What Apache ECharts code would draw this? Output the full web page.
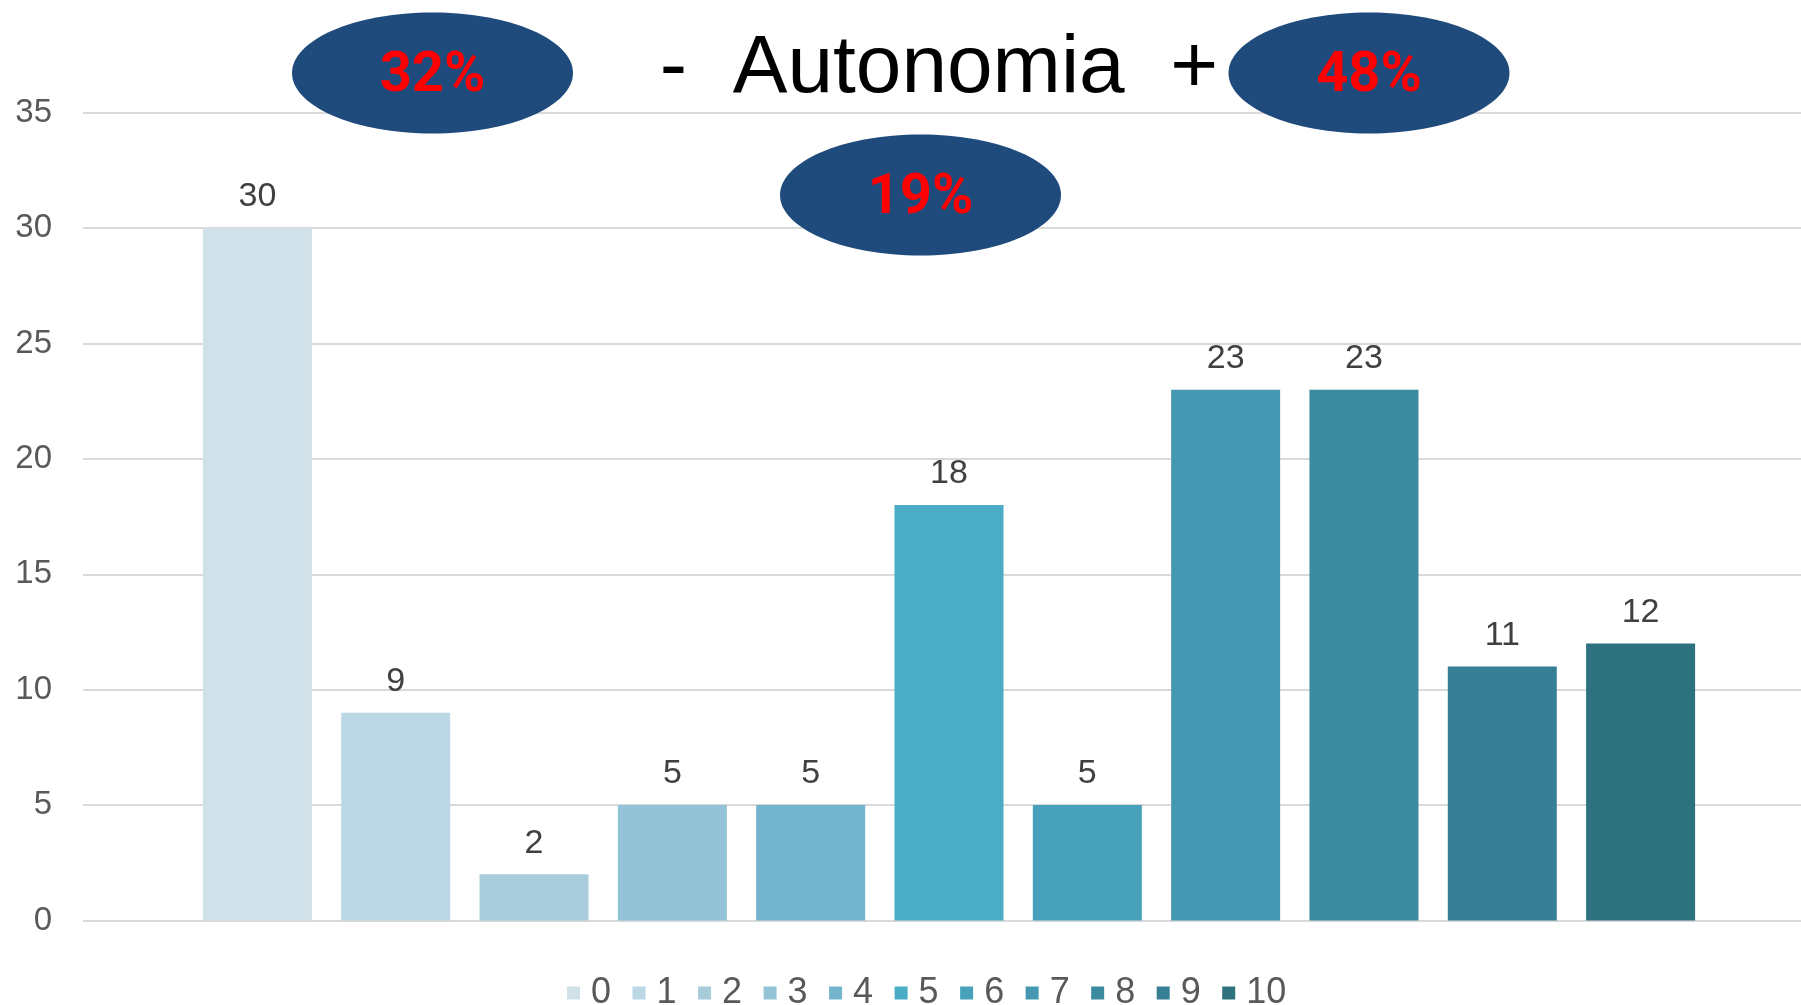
<!DOCTYPE html>
<html>
<head>
<meta charset="utf-8">
<title>Autonomia</title>
<script src="https://cdn.jsdelivr.net/npm/echarts@6/dist/echarts.min.js"></script>
<style>
  html, body { margin: 0; padding: 0; background: #ffffff; }
  #chart { width: 1801px; height: 1005px; }
</style>
</head>
<body>
<div id="chart"></div>
<script>
// Score scale 0..10 and how many answers each score received
const scoreLabels = ['0', '1', '2', '3', '4', '5', '6', '7', '8', '9', '10'];
const counts = [30, 9, 2, 5, 5, 18, 5, 23, 23, 11, 12];

// Share of answers in the low / middle / high score groups
const groupShares = ['32%', '19%', '48%'];

// Value axis range
const yMin = 0;
const yMax = 35;
const yStep = 5;

// Bar colours, light to dark teal
const palette = ['#D0E1E9', '#BCD8E4', '#A9CCDB', '#94C2D6', '#72B5CD', '#4BACC6',
                 '#47A1BB', '#4498B1', '#3B8AA0', '#377F94', '#2E7280'];

const FONT = "'Liberation Sans', Arial, sans-serif";
const chart = echarts.init(document.getElementById('chart'), null, { renderer: 'canvas' });

const series = scoreLabels.map((name, i) => ({
  type: 'bar',
  name: name,
  xAxisIndex: 1,
  yAxisIndex: 1,
  data: [counts[i]],
  barWidth: 109,
  barGap: '26.9%',
  itemStyle: { color: palette[i] },
  label: {
    show: true,
    position: 'top',
    distance: 14,
    fontFamily: FONT,
    fontSize: 34,
    color: '#404040'
  },
  emphasis: { disabled: true },
  animation: false
}));

// Oval badges with the group shares
const bubbles = [
  { cx: 432.5, cy: 73, text: groupShares[0] },
  { cx: 920.5, cy: 195, text: groupShares[1] },
  { cx: 1369, cy: 73, text: groupShares[2] }
];
const graphics = [];
bubbles.forEach(b => {
  graphics.push({
    type: 'ellipse',
    z: 100,
    shape: { cx: b.cx, cy: b.cy, rx: 140.5, ry: 60.5 },
    style: { fill: '#1F4A7C' }
  });
  graphics.push({
    type: 'text',
    z: 101,
    x: b.cx,
    y: b.cy + 4,
    style: {
      text: b.text,
      fill: '#FF0000',
      font: "bold 56px Roboto, 'Liberation Sans', sans-serif",
      align: 'center',
      verticalAlign: 'middle'
    }
  });
});
graphics.push({
  type: 'text',
  z: 100,
  x: 939,
  y: 69,
  style: {
    text: '-  Autonomia  +',
    fill: '#000000',
    font: '82px ' + FONT,
    align: 'center',
    verticalAlign: 'middle'
  }
});

chart.setOption({
  backgroundColor: '#ffffff',
  animation: false,
  grid: [
    { left: 83, right: 0, top: 112.7, bottom: 84.5 },
    { left: 97, right: 0, top: 112.7, bottom: 84.5 }
  ],
  xAxis: [
    { type: 'category', gridIndex: 0, data: [''], show: false },
    { type: 'category', gridIndex: 1, data: ['Autonomia'], show: false }
  ],
  yAxis: [
    {
      type: 'value', gridIndex: 0, min: yMin, max: yMax, interval: yStep,
      axisLine: { show: false },
      axisTick: { show: false },
      axisLabel: { margin: 31, fontFamily: FONT, fontSize: 33, color: '#595959' },
      splitLine: { lineStyle: { color: '#D9D9D9', width: 2 } }
    },
    {
      type: 'value', gridIndex: 1, min: yMin, max: yMax, interval: yStep,
      show: false, splitLine: { show: false }
    }
  ],
  legend: {
    data: scoreLabels,
    left: 567,
    top: 975,
    padding: 0,
    icon: 'rect',
    itemWidth: 13,
    itemHeight: 13,
    itemGap: 21.5,
    selectedMode: false,
    textStyle: { fontFamily: FONT, fontSize: 36, color: '#595959', padding: [0, 0, 0, 6] }
  },
  series: series,
  graphic: graphics
});
</script>
</body>
</html>
